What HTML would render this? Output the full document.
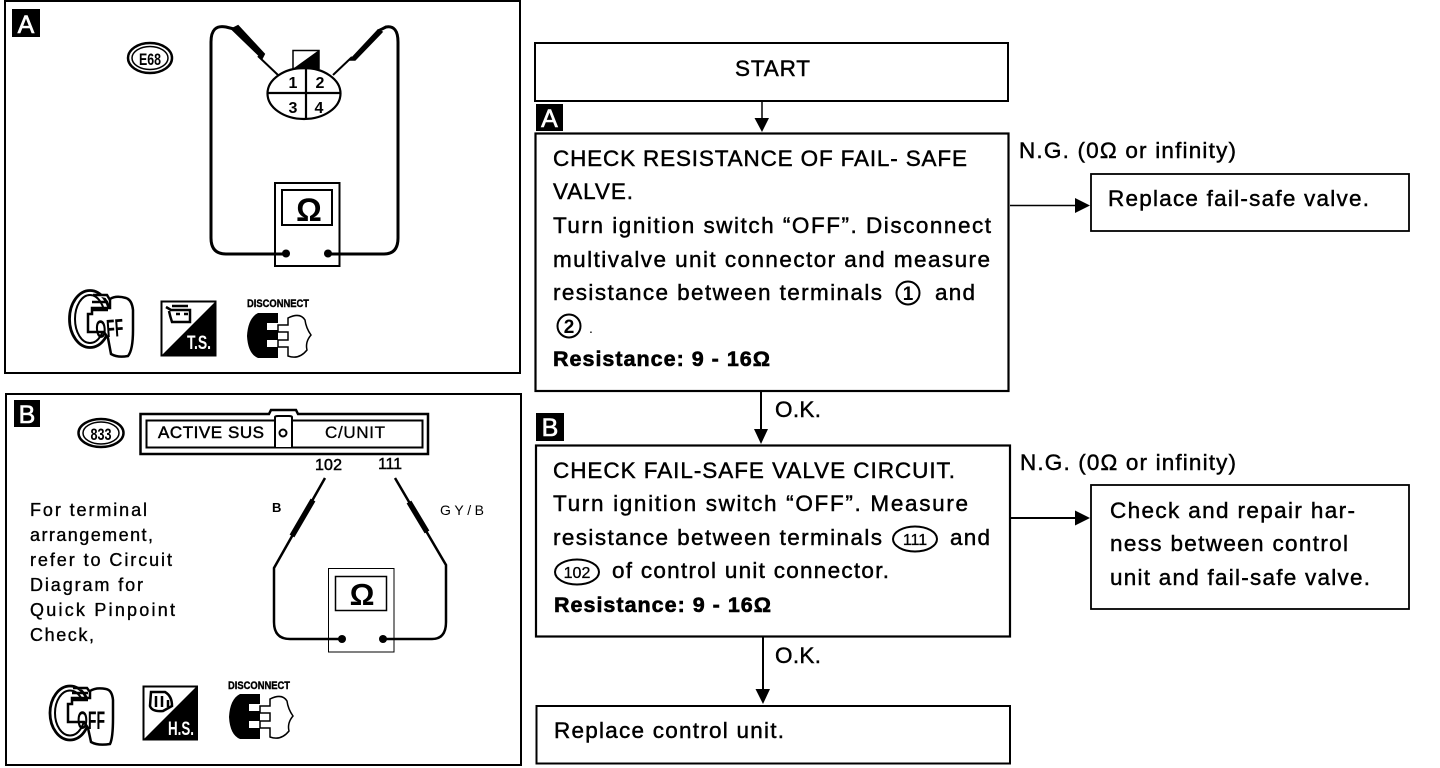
<!DOCTYPE html>
<html><head><meta charset="utf-8"><title>Fail-safe valve check</title>
<style>
html,body{margin:0;padding:0;background:#fff;width:1440px;height:768px;overflow:hidden}
svg{display:block}
text{font-family:"Liberation Sans",sans-serif;fill:#000}
.t{font-size:22.5px;stroke:#000;stroke-width:.45}
.b{font-size:21.500px;font-weight:bold;stroke:#000;stroke-width:.6}
.s{font-size:18px;stroke:#000;stroke-width:.35}
.l{fill:none;stroke:#000}
.bw{fill:#fff;font-weight:bold}
</style></head><body>
<svg width="1440" height="768" viewBox="0 0 1440 768" xmlns="http://www.w3.org/2000/svg">
<rect width="1440" height="768" fill="#fff"/>

<!-- Panel A -->
<rect x="5" y="1" width="515" height="372" class="l" stroke-width="2"/>
<rect x="12" y="9" width="28" height="28" fill="#000"/>
<text x="26" y="33" text-anchor="middle" font-size="25" style="fill:#fff;stroke:#fff;stroke-width:.6">A</text>
<ellipse cx="150" cy="58" rx="22" ry="15" class="l" stroke-width="2.500"/>
<ellipse cx="150" cy="58" rx="18" ry="11.500" class="l" stroke-width="1.500"/>
<text x="150" y="65" text-anchor="middle" font-size="17" font-weight="bold" textLength="22" lengthAdjust="spacingAndGlyphs">E68</text>

<path d="M278 75 L258 56" class="l" stroke-width="2"/>
<path d="M262 58 L232 29 L238 26 L264 54Z" fill="#000" stroke="#000" stroke-width="2"/>
<path d="M234 29 L226 27 Q211 24 211 42 V238 Q211 254 226 254 H285" class="l" stroke-width="3"/>
<path d="M333 75 L352 57" class="l" stroke-width="2"/>
<path d="M350 60 L378 30 L382 32 L355 60Z" fill="#000" stroke="#000" stroke-width="1.500"/>
<path d="M378 31 L386 27 Q398 25 398 42 V238 Q398 254 384 254 H328" class="l" stroke-width="3"/>
<rect x="293" y="50.500" width="26" height="18" fill="#fff" stroke="#000" stroke-width="1.500"/>
<path d="M319 50 V68 H294Z" fill="#000"/>
<ellipse cx="304" cy="93.500" rx="36.500" ry="25.500" fill="none" stroke="#000" stroke-width="2.200"/>
<path d="M268 93 H340 M306 68 V118" class="l" stroke-width="2.200"/>
<text x="293" y="88" text-anchor="middle" font-size="16" font-weight="bold">1</text>
<text x="320" y="88" text-anchor="middle" font-size="16" font-weight="bold">2</text>
<text x="293" y="113" text-anchor="middle" font-size="16" font-weight="bold">3</text>
<text x="319" y="113" text-anchor="middle" font-size="16" font-weight="bold">4</text>
<rect x="275" y="183" width="64.500" height="83" fill="none" stroke="#000" stroke-width="2"/>
<rect x="282" y="190" width="50" height="35" fill="none" stroke="#000" stroke-width="2"/>
<text x="309" y="221" text-anchor="middle" font-size="32" font-weight="bold">Ω</text>
<circle cx="286" cy="253.500" r="4" fill="#000"/><circle cx="328" cy="253.500" r="4" fill="#000"/>

<!-- A icons -->
<g>
<ellipse cx="90" cy="319" rx="20.500" ry="28.500" class="l" stroke-width="2.800"/>
<ellipse cx="90" cy="319" rx="15" ry="24" class="l" stroke-width="2"/>
<path d="M93 295 H107 L110 300 V308 H92 V314 H88 V332 H104 L108 338 L111 354 Q118 358 128 356 Q133 350 133 330 V310 Q132 300 126 298 Q116 295 110 299" fill="#fff" stroke="#000" stroke-width="2.500"/>
<path d="M92 302 H108 M92 310 H108" class="l" stroke-width="2.500"/>
<text x="96" y="338" font-size="25" font-weight="bold" textLength="28" lengthAdjust="spacingAndGlyphs" transform="rotate(-4 96 338)">OFF</text>
</g>
<rect x="161.500" y="301.500" width="54" height="54" fill="#fff" stroke="#000" stroke-width="2"/>
<path d="M216 301 V356 H161Z" fill="#000"/>
<text x="187" y="349" font-size="19" class="bw" textLength="24" lengthAdjust="spacingAndGlyphs">T.S.</text>
<path d="M166 307 L171 310 H190 V322 H172 Q170 316 169 311" fill="#fff" stroke="#000" stroke-width="2.500"/>
<path d="M172 306 H188 M176 314 H180 M184 314 H188" class="l" stroke-width="2.500"/>
<text x="247" y="307" font-size="11" font-weight="bold" textLength="62" lengthAdjust="spacingAndGlyphs" style="stroke:#000;stroke-width:.4">DISCONNECT</text>
<path d="M278 313 H258 Q248 318 247 336 Q248 354 258 358 H278 V347 H267 V340 H278 V330 H267 V323 H278Z" fill="#000"/>
<path d="M288 318 Q300 312 305 320 Q306 328 311 335 Q305 342 307 350 Q299 360 288 356 V347 H278 V340 H288 V332 H278 V325 H288Z" fill="#fff" stroke="#000" stroke-width="1.500"/>

<!-- Panel B -->
<rect x="6" y="394" width="515" height="371" class="l" stroke-width="2"/>
<rect x="14" y="400" width="26" height="27" fill="#000"/>
<text x="27" y="423" text-anchor="middle" font-size="25" style="fill:#fff;stroke:#fff;stroke-width:.6">B</text>
<ellipse cx="101" cy="433" rx="22.500" ry="14" class="l" stroke-width="2.500"/>
<ellipse cx="101" cy="433" rx="18" ry="11" class="l" stroke-width="1.500"/>
<text x="101" y="440" text-anchor="middle" font-size="17" font-weight="bold" textLength="21" lengthAdjust="spacingAndGlyphs">833</text>
<path d="M140.500 414 H269 L271 410 H296 L298 414 H428 V454 H140.500Z" fill="none" stroke="#000" stroke-width="2.500"/>
<rect x="146.500" y="420.500" width="276" height="27" fill="none" stroke="#000" stroke-width="2"/>
<path d="M275 447 V417 Q275 416 278 416 H289 Q292 416 292 417 V447" fill="#fff" stroke="#000" stroke-width="2"/>
<circle cx="283" cy="433" r="3.500" class="l" stroke-width="2"/>
<text x="158" y="438" style="font-size:17px;stroke:#000;stroke-width:.5" textLength="106">ACTIVE SUS</text>
<text x="325" y="438" style="font-size:17px;stroke:#000;stroke-width:.3" textLength="60">C/UNIT</text>
<text x="315" y="470" font-size="16" style="stroke:#000;stroke-width:.5" textLength="27">102</text>
<text x="378" y="469" font-size="16" style="stroke:#000;stroke-width:.4" textLength="24">111</text>
<text x="272" y="512" font-size="13" font-weight="bold">B</text>
<text x="440" y="515" font-size="14" textLength="44">GY/B</text>

<path d="M325 478 L274 568 V622 Q274 639 290 639 H342" class="l" stroke-width="2.500"/>
<path d="M313 500 L292 536" class="l" stroke-width="5.500"/>
<path d="M395 478 L446 565 V622 Q446 639 432 639 H383" class="l" stroke-width="2.500"/>
<path d="M409 502 L427 532" class="l" stroke-width="5.500"/>
<rect x="328.500" y="568.500" width="65.500" height="83.500" class="l" stroke-width="1"/>
<rect x="335.500" y="576.500" width="51" height="34" class="l" stroke-width="1.500"/>
<text x="362" y="605" text-anchor="middle" font-size="31" font-weight="bold">Ω</text>
<circle cx="342" cy="639" r="4" fill="#000"/><circle cx="383" cy="639" r="4" fill="#000"/>

<text x="30" y="516" class="s" textLength="117">For terminal</text>
<text x="30" y="541" class="s" textLength="123">arrangement,</text>
<text x="30" y="566" class="s" textLength="142">refer to Circuit</text>
<text x="30" y="591" class="s" textLength="113">Diagram for</text>
<text x="30" y="616" class="s" textLength="145">Quick Pinpoint</text>
<text x="30" y="641" class="s" textLength="64">Check,</text>

<!-- B icons -->
<g transform="translate(-20 388)">
<ellipse cx="90" cy="325" rx="20" ry="27" class="l" stroke-width="2.800"/>
<ellipse cx="90" cy="325" rx="15" ry="22.500" class="l" stroke-width="2"/>
<path d="M93 300 H107 L110 304 V310 H92 V316 H88 V334 H104 L108 340 L111 354 Q118 358 130 356 Q133 350 133 330 V312 Q132 302 126 301 Q116 299 110 303" fill="#fff" stroke="#000" stroke-width="2.500"/>
<path d="M92 305 H108 M92 312 H108" class="l" stroke-width="2.500"/>
<text x="97" y="341" font-size="25" font-weight="bold" textLength="28" lengthAdjust="spacingAndGlyphs">OFF</text>
</g>
<rect x="143.500" y="686.500" width="53.500" height="53" fill="#fff" stroke="#000" stroke-width="2"/>
<path d="M197 686 V740 H143Z" fill="#000"/>
<text x="168" y="735" font-size="19" class="bw" textLength="26" lengthAdjust="spacingAndGlyphs">H.S.</text>
<path d="M151 692 H165 Q172 696 172 706 L163 711 Q152 712 150 706Z" fill="#fff" stroke="#000" stroke-width="2.500"/>
<path d="M156 696 V707 M162 696 V707 M168 700 V707" class="l" stroke-width="2.500"/>
<text x="228" y="689" font-size="11" font-weight="bold" textLength="62" lengthAdjust="spacingAndGlyphs" style="stroke:#000;stroke-width:.4">DISCONNECT</text>
<g transform="translate(-18 381)">
<path d="M278 313 H258 Q248 318 247 336 Q248 354 258 358 H278 V347 H267 V340 H278 V330 H267 V323 H278Z" fill="#000"/>
<path d="M288 318 Q300 312 305 320 Q306 328 311 335 Q305 342 307 350 Q299 360 288 356 V347 H278 V340 H288 V332 H278 V325 H288Z" fill="#fff" stroke="#000" stroke-width="1.500"/>
</g>

<!-- Flowchart -->
<rect x="535" y="43" width="473" height="58" class="l" stroke-width="2"/>
<text x="735" y="76" class="t" textLength="75">START</text>
<path d="M762 101 V119" class="l" stroke-width="1.500"/>
<path d="M754.500 118 H769 L762 132Z" fill="#000"/>
<rect x="536" y="104" width="27" height="27" fill="#000"/>
<text x="549.500" y="127" text-anchor="middle" font-size="25" style="fill:#fff;stroke:#fff;stroke-width:.6">A</text>

<rect x="535.500" y="133.500" width="473" height="257.500" class="l" stroke-width="2.200"/>
<text x="553" y="166" class="t" textLength="414">CHECK RESISTANCE OF FAIL- SAFE</text>
<text x="553" y="199" class="t" textLength="80">VALVE.</text>
<text x="553" y="233" class="t" textLength="438">Turn ignition switch “OFF”. Disconnect</text>
<text x="553" y="267" class="t" textLength="437">multivalve unit connector and measure</text>
<text x="553" y="300" class="t" textLength="329">resistance between terminals</text>
<circle cx="908" cy="293" r="11.500" class="l" stroke-width="2"/>
<text x="908" y="300" text-anchor="middle" font-size="19" font-weight="bold">1</text>
<text x="935" y="300" class="t" textLength="40">and</text>
<circle cx="569" cy="326" r="11.500" class="l" stroke-width="2"/>
<text x="569" y="333" text-anchor="middle" font-size="19" font-weight="bold">2</text>
<text x="589" y="333" font-size="14">.</text>
<text x="553" y="366" class="b" textLength="217">Resistance: 9 - 16Ω</text>

<path d="M761 391 V431" class="l" stroke-width="2"/>
<path d="M754 429 H768 L761 444Z" fill="#000"/>
<text x="775" y="417" class="t" textLength="46">O.K.</text>
<rect x="536" y="413" width="28" height="28" fill="#000"/>
<text x="550" y="436" text-anchor="middle" font-size="25" style="fill:#fff;stroke:#fff;stroke-width:.6">B</text>

<rect x="536" y="445.500" width="474" height="191" class="l" stroke-width="2.200"/>
<text x="553" y="478" class="t" textLength="402">CHECK FAIL-SAFE VALVE CIRCUIT.</text>
<text x="553" y="511" class="t" textLength="415">Turn ignition switch “OFF”. Measure</text>
<text x="553" y="545" class="t" textLength="329">resistance between terminals</text>
<ellipse cx="915" cy="539" rx="22" ry="12.500" class="l" stroke-width="2"/>
<text x="915" y="545" text-anchor="middle" font-size="16" style="stroke:#000;stroke-width:.3">111</text>
<text x="950" y="545" class="t" textLength="40">and</text>
<ellipse cx="577" cy="572" rx="22" ry="12.500" class="l" stroke-width="2"/>
<text x="577" y="578" text-anchor="middle" font-size="16" style="stroke:#000;stroke-width:.3">102</text>
<text x="612" y="578" class="t" textLength="277">of control unit connector.</text>
<text x="554" y="612" class="b" textLength="217">Resistance: 9 - 16Ω</text>

<path d="M763 637 V691" class="l" stroke-width="2"/>
<path d="M755.500 689 H770 L763 704Z" fill="#000"/>
<text x="775" y="663" class="t" textLength="46">O.K.</text>
<rect x="536.500" y="706" width="473.500" height="57.500" class="l" stroke-width="2"/>
<text x="554" y="738" class="t" textLength="230">Replace control unit.</text>

<text x="1019" y="158" class="t" textLength="217">N.G. (0Ω or infinity)</text>
<path d="M1010 205.500 H1077" class="l" stroke-width="1.500"/>
<path d="M1075 198 V213 L1090 205.500Z" fill="#000"/>
<rect x="1091" y="174" width="318" height="57" class="l" stroke-width="1.800"/>
<text x="1108" y="206" class="t" textLength="261">Replace fail-safe valve.</text>

<text x="1020" y="470" class="t" textLength="216">N.G. (0Ω or infinity)</text>
<path d="M1010 518 H1077" class="l" stroke-width="2"/>
<path d="M1075 510.500 V525.500 L1090 518Z" fill="#000"/>
<rect x="1091" y="485" width="318" height="124" class="l" stroke-width="1.800"/>
<text x="1110" y="518" class="t" textLength="245">Check and repair har-</text>
<text x="1110" y="551" class="t" textLength="238">ness between control</text>
<text x="1110" y="585" class="t" textLength="260">unit and fail-safe valve.</text>
</svg>
</body></html>
